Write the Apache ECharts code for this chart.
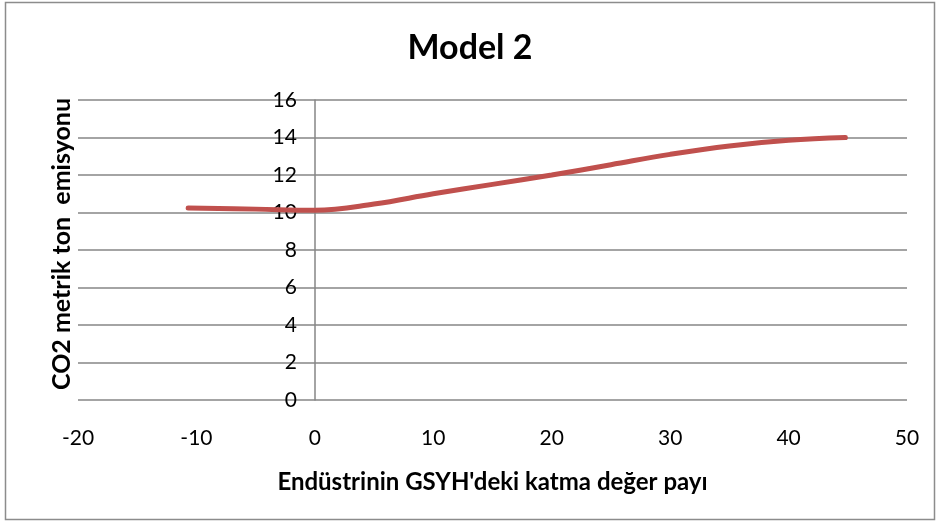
<!DOCTYPE html>
<html>
<head>
<meta charset="utf-8">
<script src="https://cdn.jsdelivr.net/npm/echarts@6/dist/echarts.min.js"></script>
<style>
  html, body { margin: 0; padding: 0; background: #fff; }
  #myChart { width: 940px; height: 526px; }
</style>
</head>
<body>
<div id="myChart"></div>
<script>
  // veri (okunan degerler)
  var xValues = [-10.7, -5, 0, 5, 10, 15, 20, 25, 30, 35, 40, 44.8]
  var yValues = [10.24, 10.18, 10.12, 10.45, 11.0, 11.5, 12.0, 12.55, 13.1, 13.55, 13.85, 14.0]
  var xTicks = { min: -20, max: 50, interval: 10 }
  var yTicks = { min: 0, max: 16, interval: 2 }
  var xName = "Endüstrinin GSYH'deki katma değer payı"
  var yName = 'CO2 metrik ton  emisyonu'

  var points = xValues.map(function (x, i) { return [x, yValues[i]] })

  var gridLeft = 78
  var gridRight = 33
  var plotWidth = 940 - gridLeft - gridRight
  // y ekseni x=0 noktasinda
  var yAxisOffset = -plotWidth * (0 - xTicks.min) / (xTicks.max - xTicks.min)

  var myChart = echarts.init(document.getElementById('myChart'))
  myChart.setOption({
    animation: false,
    textStyle: { fontFamily: 'Lato' },
    title: {
      text: 'Model 2',
      left: 'center',
      top: 26,
      textStyle: { fontSize: 34, fontWeight: 'bold', color: '#000', fontFamily: 'Lato' }
    },
    graphic: [
      {
        type: 'rect',
        shape: { x: 5.5, y: 2.5, width: 929, height: 517 },
        style: { fill: 'none', stroke: '#8c8c8c', lineWidth: 1.5 }
      },
      {
        // y ekseni adi
        type: 'text',
        x: 62,
        y: 244,
        rotation: Math.PI / 2,
        style: {
          text: yName,
          fontSize: 25,
          fontWeight: 'bold',
          fontFamily: 'Lato',
          fill: '#000',
          align: 'center',
          verticalAlign: 'middle'
        }
      }
    ],
    grid: { left: gridLeft, right: gridRight, top: 100, bottom: 126, containLabel: false, outerBoundsMode: 'none' },
    xAxis: {
      type: 'value',
      min: xTicks.min,
      max: xTicks.max,
      interval: xTicks.interval,
      name: xName,
      nameLocation: 'middle',
      nameGap: 70,
      nameTextStyle: { fontSize: 24, fontWeight: 'bold', color: '#000' },
      axisLine: { show: false },
      axisTick: { show: false },
      splitLine: { show: false },
      axisLabel: { fontSize: 21, color: '#000', margin: 28 }
    },
    yAxis: {
      type: 'value',
      min: yTicks.min,
      max: yTicks.max,
      interval: yTicks.interval,
      offset: yAxisOffset,
      axisLine: { show: true, onZero: false, lineStyle: { color: '#868686', width: 1.5 } },
      axisTick: { show: false },
      splitLine: { show: true, lineStyle: { color: '#868686', width: 1.5 } },
      axisLabel: { fontSize: 21, color: '#000', margin: 18, verticalAlign: 'middle' }
    },
    series: [{
      type: 'line',
      data: points,
      smooth: 0.4,
      showSymbol: false,
      lineStyle: { color: '#C0504D', width: 5, cap: 'round' }
    }]
  })
</script>
</body>
</html>
